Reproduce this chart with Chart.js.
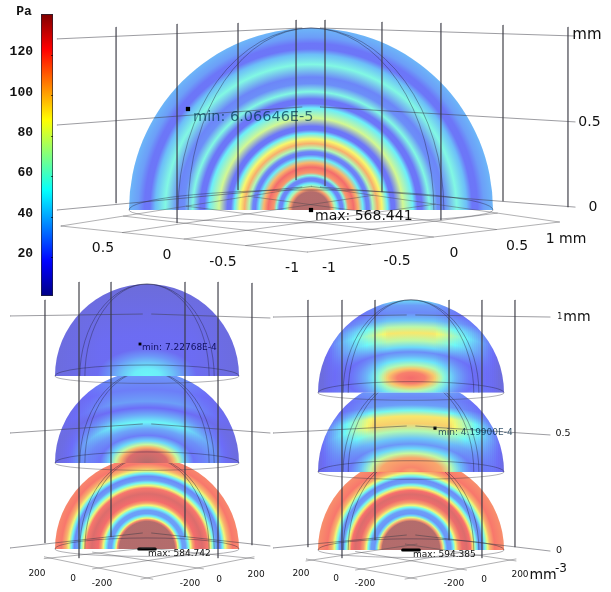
<!DOCTYPE html>
<html>
<head>
<meta charset="utf-8">
<script src="https://cdn.jsdelivr.net/npm/chart.js@4"></script>
<style>
  html, body { margin: 0; background: #fff; }
  canvas { position: absolute; left: 0; top: 0; filter: blur(.4px); }
</style>
</head>
<body>
<canvas id="main" width="611" height="592"></canvas>
<canvas id="bar" width="60" height="310"></canvas>
<script>
// colour scale
const barTicks = [20, 40, 60, 80, 100, 120];
const barRange = [0.7, 140.3];

// pressure (Pa) against radius, one pair per hemisphere
const topRadius = [0, .10, .115, .13, .145, .16, .175, .19, .205, .235, .26, .285, .305, .32, .34, .365, .39, .42, .44, .46, .505, .56, .585, .61, .65, .695, .73, .80, .855, .885, .915, .95, 1];
const topPressure = [145, 140, 110, 70, 50, 24, 24, 60, 112, 124, 104, 50, 22, 24, 70, 106, 88, 50, 20, 20, 78, 50, 20, 20, 58, 26, 24, 58, 38, 20, 20, 30, 36];

const leftBottomRadius = [0, .30, .32, .335, .36, .385, .42, .45, .475, .50, .53, .6, .66, .69, .72, .75, .79, .82, .85, .88, .93, 1];
const leftBottomPressure = [145, 140, 115, 85, 50, 30, 30, 55, 85, 110, 124, 130, 120, 85, 55, 30, 25, 50, 85, 105, 120, 116];
const leftMiddleRadius = [0, .13, .17, .2, .24, .3, .37, .445, .52, .6, .67, .8, 1];
const leftMiddlePressure = [145, 130, 105, 75, 45, 22, 32, 52, 34, 18, 30, 22, 30];
const leftTopRadius = [0, .08, .15, .22, .3, .45, 1];
const leftTopPressure = [52, 50, 40, 28, 16, 16, 10];

const rightBottomRadius = [0, .31, .33, .35, .37, .39, .43, .46, .48, .51, .55, .6, .64, .67, .70, .725, .765, .795, .825, .85, .9, 1];
const rightBottomPressure = [145, 140, 110, 80, 45, 28, 30, 55, 85, 110, 126, 130, 122, 90, 55, 30, 26, 55, 85, 105, 120, 114];
const rightMiddleRadius = [0, .05, .15, .2, .25, .3, .36, .44, .52, .6, .66, .72, .8, 1];
const rightMiddlePressure = [108, 116, 108, 75, 45, 28, 40, 70, 98, 92, 55, 30, 25, 40];
const rightTopRadius = [0, .06, .10, .14, .19, .24, .28, .33, .40, .485, .55, .62, .70, .78, .84, 1];
const rightTopPressure = [124, 118, 100, 70, 48, 34, 26, 45, 72, 92, 72, 40, 25, 30, 45, 45];

// floor ticks
const mmTicks = [-1, -0.5, 0, 0.5, 1];
const densityTicks = [-200, 0, 200];

// slices through the dome, drawn as thin arcs
const meridians = [0.73, 0.675];

const W = 611, H = 592;
const panels = {
  t: {
    cx: 311, cy: 210, R: 182, gap: .05, ends: [-1.396, 1.451],
    levels: [[0, .126, .016], [.467, .566, .484], [.94, 1, .956]],
    posts: [-1.071, -.736, -.401, -.082, .077, .39, .714, 1.055, 1.412],
    postTop: [1.005, 1.022, 1.027, 1.044, 1.044, 1.033, 1.027, 1.016, 1.005],
    postEnd: [.038, -.071, .11, .165, .132, .099, -.055, .049, .016],
    floor: { back: [0, .13], left: [-1.374, -.088], right: [1.365, -.066], front: [-.02, -.231] },
    floorTicks: mmTicks, over: 0,
    domes: [{ base: 0, r: topRadius, p: topPressure }],
    backRy: .11, frontRy: .07
  },
  l: {
    cx: 147, cy: 549, R: 92, gap: .05, ends: [-1.489, 1.337],
    levels: [[.011, .174, .033], [1.261, 1.359, 1.261], [2.533, 2.554, 2.511]],
    posts: [-1.109, -.739, -.391, .413, .772, 1.141],
    postTop: [2.707, 2.902, 2.902, 2.902, 2.902, 2.891],
    postEnd: [.065, -.098, .13, .13, -.098, .043],
    floor: { back: [0, .01], left: [-1.054, -.098], right: [1.098, -.098], front: [0, -.315] },
    floorTicks: densityTicks, over: .06,
    domes: [
      { base: 0, r: leftBottomRadius, p: leftBottomPressure },
      { base: .935, r: leftMiddleRadius, p: leftMiddlePressure, aspect: 1.7, fade: [.35, 1] },
      { base: 1.88, r: leftTopRadius, p: leftTopPressure, aspect: 1.8, fade: [.5, 1] }
    ],
    backRy: .12, frontRy: .08
  },
  r: {
    cx: 411, cy: 550, R: 93, gap: .05, ends: [-1.484, 1.495],
    levels: [[.022, .161, -.011], [1.258, 1.333, 1.237], [2.505, 2.527, 2.505]],
    posts: [-1.108, -.742, -.387, .409, .763, 1.118],
    postTop: [2.688, 2.688, 2.688, 2.688, 2.688, 2.688],
    postEnd: [.032, -.086, .108, .108, -.086, .032],
    floor: { back: [0, .054], left: [-1.065, -.108], right: [1.065, -.108], front: [0, -.301] },
    floorTicks: densityTicks, over: .06,
    domes: [
      { base: 0, r: rightBottomRadius, p: rightBottomPressure },
      { base: .84, r: rightMiddleRadius, p: rightMiddlePressure, aspect: 2.2, fade: [.4, 1] },
      { base: 1.69, r: rightTopRadius, p: rightTopPressure, aspect: 2.5, lift: .16, fade: [.25, .95] }
    ],
    backRy: .12, frontRy: .08
  }
};

// pressure the faded domes settle to towards their sides
const sidePressure = 11;

// text: panel, x, y in panel units
const S = 'DejaVu Sans';
const labels = [
  ['t', 'mm', 1.516, .96, 15], ['t', '0.5', 1.53, .483, 14], ['t', '0', 1.549, .016, 14], ['t', '1 mm', 1.401, -.159, 14],
  ['t', '0.5', -1.143, -.209, 14], ['t', '0', -.791, -.247, 14], ['t', '-0.5', -.484, -.286, 14], ['t', '-1', -.104, -.319, 14],
  ['t', '-1', .099, -.319, 14], ['t', '-0.5', .473, -.28, 14], ['t', '0', .786, -.236, 14], ['t', '0.5', 1.132, -.198, 14],
  ['l', '200', -1.196, -.272, 9], ['l', '0', -.804, -.326, 9], ['l', '-200', -.489, -.38, 9],
  ['l', '-200', .467, -.38, 9], ['l', '0', .783, -.337, 9], ['l', '200', 1.185, -.283, 9],
  ['r', '200', -1.183, -.258, 9], ['r', '0', -.806, -.312, 9], ['r', '-200', -.495, -.366, 9],
  ['r', '-200', .462, -.366, 9], ['r', '0', .785, -.323, 9], ['r', '200', 1.172, -.269, 9],
  ['r', 'mm', 1.42, -.269, 14], ['r', '-3', 1.613, -.204, 12],
  ['r', '1', 1.6, 2.505, 8], ['r', 'mm', 1.785, 2.505, 14], ['r', '0.5', 1.634, 1.247, 9.5], ['r', '0', 1.591, -.011, 9.5]
];
const readouts = [
  ['t', 'min: 6.06646E-5', -.648, .51, 14.5, 'rgba(0,55,80,.72)'],
  ['t', 'max: 568.441', .022, -.033, 14, '#111'],
  ['l', 'min: 7.22768E-4', -.054, 2.185, 9, 'rgba(0,0,70,.85)'],
  ['l', 'max: 584.742', .011, -.054, 9, '#111'],
  ['r', 'min: 4.19900E-4', .29, 1.267, 9, 'rgba(0,40,70,.8)'],
  ['r', 'max: 594.385', .022, -.054, 9, '#111']
];

function jet(p, a) {
  const stops = [[0, 0, 0, 128], [.125, 0, 0, 255], [.375, 0, 255, 255], [.625, 255, 255, 0], [.875, 255, 0, 0], [1, 128, 0, 0]];
  const t = Math.min(1, Math.max(0, p / barRange[1]));
  let i = 0;
  while (i < stops.length - 2 && t > stops[i + 1][0]) i++;
  const s0 = stops[i], s1 = stops[i + 1], k = (t - s0[0]) / (s1[0] - s0[0]);
  const c = [1, 2, 3].map(j => Math.round(s0[j] + (s1[j] - s0[j]) * k));
  return `rgba(${c[0]},${c[1]},${c[2]},${a})`;
}

function line(id, pts, color, width) {
  return {
    xAxisID: 'x' + id, yAxisID: 'y' + id, showLine: true, pointRadius: 0,
    borderColor: color || 'rgba(60,60,70,.5)', borderWidth: width || 1,
    borderCapStyle: 'round',
    data: pts.map(p => ({ x: p[0], y: p[1] }))
  };
}

function floorPoint(f, t, s) {
  const w = [(1 - t) * (1 - s), t * (1 - s), (1 - t) * s, t * s];
  const c = [f.back, f.left, f.right, f.front];
  return [0, 1].map(j => c.reduce((sum, pt, i) => sum + pt[j] * w[i], 0));
}

const datasets = [];
const scales = {};
Object.keys(panels).forEach(id => {
  const p = panels[id];
  scales['x' + id] = { type: 'linear', display: false, min: -p.cx / p.R, max: (W - p.cx) / p.R };
  scales['y' + id] = { type: 'linear', display: false, min: (p.cy - H) / p.R, max: p.cy / p.R };
  p.levels.forEach(l => {
    datasets.push(line(id, [[p.ends[0], l[0]], [-p.gap, l[1]]]));
    datasets.push(line(id, [[p.gap, l[1]], [p.ends[1], l[2]]]));
  });
  p.posts.forEach((u, i) => datasets.push(line(id, [[u, p.postTop[i]], [u, p.postEnd[i]]])));
  const n = p.floorTicks.length - 1, e = p.over;
  p.floorTicks.forEach((_, i) => {
    datasets.push(line(id, [floorPoint(p.floor, i / n, -e), floorPoint(p.floor, i / n, 1 + e)], 'rgba(70,70,75,.42)'));
    datasets.push(line(id, [floorPoint(p.floor, -e, i / n), floorPoint(p.floor, 1 + e, i / n)], 'rgba(70,70,75,.42)'));
  });
});

// min and max markers
function marker(id, u, v, r) {
  return { xAxisID: 'x' + id, yAxisID: 'y' + id, pointStyle: 'rect', pointRadius: r, backgroundColor: '#000', borderWidth: 0, data: [{ x: u, y: v }] };
}
datasets.push(marker('t', -.676, .555, 3));
datasets.push(marker('t', 0, 0, 3));
datasets.push(marker('l', -.076, 2.228, 2));
datasets.push(marker('r', .258, 1.31, 2.2));
datasets.push(line('l', [[-.09, 0], [.09, 0]], '#000', 3));
datasets.push(line('r', [[-.09, 0], [.09, 0]], '#000', 3));

// rings of one dome inside a pixel column range, pressures pulled towards the side value by k
function paintRings(ctx, d, cx, cy, rx, ry, left, width, top, height, k) {
  ctx.save();
  ctx.beginPath();
  ctx.rect(left, top, width, height);
  ctx.clip();
  ctx.translate(cx, cy);
  ctx.scale(rx * (d.aspect || 1), ry);
  const g = ctx.createRadialGradient(0, 0, 0, 0, 0, 1);
  d.r.forEach((r, i) => g.addColorStop(r, jet(sidePressure + (d.p[i] - sidePressure) * k, .55)));
  ctx.fillStyle = g;
  ctx.fillRect(-4, -4, 8, 8);
  ctx.restore();
}

const domePlugin = {
  id: 'domes',
  beforeDatasetsDraw(chart) {
    const ctx = chart.ctx;
    Object.keys(panels).forEach(id => {
      const p = panels[id], xs = chart.scales['x' + id], ys = chart.scales['y' + id];
      const cx = xs.getPixelForValue(0), rx = xs.getPixelForValue(1) - cx;
      const ry = ys.getPixelForValue(0) - ys.getPixelForValue(1);
      p.domes.forEach(d => {
        const by = ys.getPixelForValue(d.base);
        const ringY = ys.getPixelForValue(d.base + (d.lift || 0));
        ctx.save();
        ctx.beginPath();
        ctx.ellipse(cx, by, rx, ry, 0, Math.PI, 2 * Math.PI);
        ctx.closePath();
        ctx.clip();
        ctx.fillStyle = '#f0f0f0';
        ctx.fillRect(cx - rx, by - ry, 2 * rx, ry);

        if (d.fade) {
          const x0 = Math.floor(cx - rx), x1 = Math.ceil(cx + rx);
          for (let px = x0; px < x1; px += 2) {
            const u = Math.abs(px + 1 - cx) / rx;
            const k = Math.min(1, Math.max(0, (d.fade[1] - u) / (d.fade[1] - d.fade[0])));
            paintRings(ctx, d, cx, ringY, rx, ry, px, 2, by - ry, ry, k);
          }
        } else {
          paintRings(ctx, d, cx, ringY, rx, ry, cx - rx, 2 * rx, by - ry, ry, 1);
        }
        ctx.restore();

        ctx.strokeStyle = 'rgba(35,35,60,.5)';
        ctx.lineWidth = .8;
        meridians.forEach(m => {
          ctx.beginPath();
          ctx.ellipse(cx, by, rx * m, ry, 0, Math.PI, 2 * Math.PI);
          ctx.stroke();
        });
        ctx.beginPath();
        ctx.ellipse(cx, by, rx, ry * p.backRy, 0, Math.PI, 2 * Math.PI);
        ctx.strokeStyle = 'rgba(35,35,60,.5)';
        ctx.stroke();
        ctx.beginPath();
        ctx.ellipse(cx, by, rx, ry * p.frontRy, 0, 0, Math.PI);
        ctx.strokeStyle = 'rgba(60,60,70,.5)';
        ctx.stroke();
      });
    });
  },
  afterDatasetsDraw(chart) {
    const ctx = chart.ctx;
    ctx.save();
    ctx.textBaseline = 'middle';
    const put = (id, text, u, v, size) => {
      ctx.font = size + 'px "' + S + '"';
      ctx.fillText(text, chart.scales['x' + id].getPixelForValue(u), chart.scales['y' + id].getPixelForValue(v));
    };
    ctx.textAlign = 'center';
    ctx.fillStyle = '#111';
    labels.forEach(l => put(l[0], l[1], l[2], l[3], l[4]));
    ctx.textAlign = 'left';
    readouts.forEach(l => { ctx.fillStyle = l[5]; put(l[0], l[1], l[2], l[3], l[4]); });
    ctx.restore();
  }
};

new Chart(document.getElementById('main'), {
  type: 'scatter',
  data: { datasets },
  plugins: [domePlugin],
  options: {
    responsive: false, animation: false, devicePixelRatio: 1,
    layout: { padding: 0, autoPadding: false },
    plugins: { legend: { display: false }, tooltip: { enabled: false } },
    scales
  }
});

// colour bar
new Chart(document.getElementById('bar'), {
  type: 'bar',
  data: {
    labels: ['Pa'],
    datasets: [{
      data: [barRange],
      barPercentage: 1, categoryPercentage: 1,
      borderColor: '#223', borderWidth: 1, borderSkipped: false,
      backgroundColor(c) {
        const a = c.chart.chartArea;
        if (!a) return '#000';
        const y = c.chart.scales.y;
        const g = c.chart.ctx.createLinearGradient(0, y.getPixelForValue(barRange[0]), 0, y.getPixelForValue(barRange[1]));
        for (let i = 0; i <= 40; i++) g.addColorStop(i / 40, jet(barRange[0] + (barRange[1] - barRange[0]) * i / 40, 1));
        return g;
      }
    }]
  },
  plugins: [{
    id: 'barMarks',
    afterDatasetsDraw(chart) {
      const ctx = chart.ctx, y = chart.scales.y, a = chart.chartArea;
      ctx.save();
      ctx.strokeStyle = 'rgba(0,0,0,.6)';
      barTicks.forEach(t => {
        const py = Math.round(y.getPixelForValue(t)) + .5;
        ctx.beginPath();
        ctx.moveTo(a.right - 2, py);
        ctx.lineTo(a.right, py);
        ctx.stroke();
      });
      ctx.fillStyle = '#111';
      ctx.font = 'bold 13px "Liberation Mono"';
      ctx.textAlign = 'center';
      ctx.textBaseline = 'middle';
      ctx.fillText('Pa', 24, 12);
      ctx.restore();
    }
  }],
  options: {
    responsive: false, animation: false, devicePixelRatio: 1,
    layout: { padding: { top: 14, bottom: 14, right: 7, left: 0 }, autoPadding: false },
    plugins: { legend: { display: false }, tooltip: { enabled: false } },
    scales: {
      x: { display: false },
      y: {
        min: barRange[0], max: barRange[1],
        afterBuildTicks(axis) { axis.ticks = barTicks.map(v => ({ value: v })); },
        afterFit(axis) { axis.width = 41; },
        grid: { display: false },
        border: { display: false },
        ticks: { color: '#111', padding: 0, labelOffset: -3, font: { family: 'Liberation Mono', weight: 'bold', size: 13 } }
      }
    }
  }
});
</script>
</body>
</html>
